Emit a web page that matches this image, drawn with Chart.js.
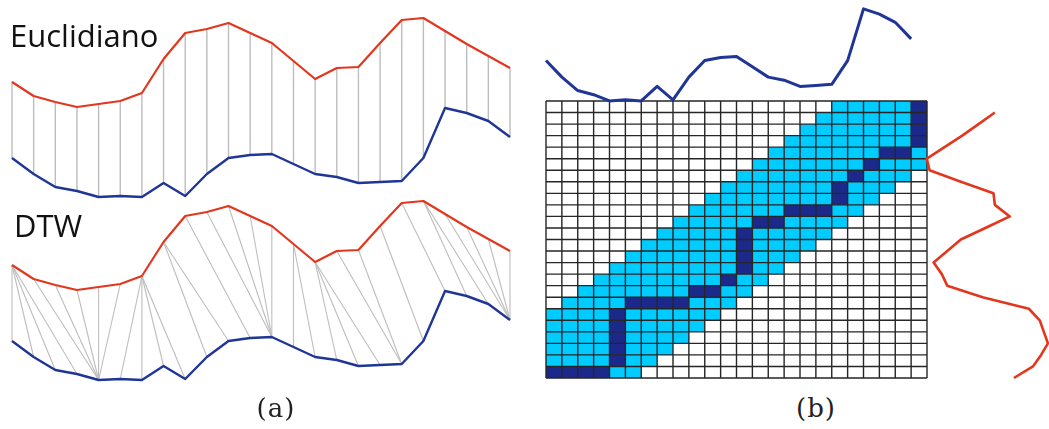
<!DOCTYPE html>
<html>
<head>
<meta charset="utf-8">
<script src="https://cdn.jsdelivr.net/npm/chart.js@4.4.1/dist/chart.umd.min.js"></script>
<style>
  body { margin: 0; background: #fff; }
  #page { position: relative; width: 1049px; height: 429px; overflow: hidden; }
  canvas { position: absolute; }
  .name { position: absolute; font-family: "Open Sans", sans-serif; font-size: 31px; line-height: 1; color: #111; }
  .cap { position: absolute; width: 80px; text-align: center; font-family: "DejaVu Serif", serif; font-size: 26px; letter-spacing: 1px; color: #222; }
</style>
</head>
<body>
<div id="page">
  <canvas id="euclid" width="530" height="215" style="left:0px;top:0px"></canvas>
  <canvas id="dtw" width="530" height="215" style="left:0px;top:183px"></canvas>
  <canvas id="grid" width="395" height="290" style="left:540px;top:95px"></canvas>
  <canvas id="topSeries" width="395" height="110" style="left:540px;top:0px"></canvas>
  <canvas id="sideSeries" width="134" height="290" style="left:915px;top:95px"></canvas>
  <div class="name" style="left:10px;top:20px">Euclidiano</div>
  <div class="name" style="left:14px;top:210px">DTW</div>
  <div class="cap" style="left:236px;top:393px">(a)</div>
  <div class="cap" style="left:776px;top:393px">(b)</div>
</div>
<script>
// two series being aligned (same length)
const red = [12.8, 11.4, 10.8, 10.3, 10.6, 10.9, 11.7, 15.1, 17.7, 18.1, 18.7, 17.7,
             16.7, 14.9, 13.1, 14.2, 14.3, 16.7, 19.0, 19.2, 17.9, 16.6, 15.4, 14.2];
const blue = [5.2, 3.6, 2.3, 1.9, 1.3, 1.4, 1.3, 2.7, 1.4, 3.6, 5.2, 5.5,
              5.6, 4.6, 3.6, 3.3, 2.7, 2.8, 2.9, 5.2, 10.2, 9.7, 8.9, 7.3];

// warping path as [blue index, red index]
const warpPath = [
  [0, 0], [1, 0], [2, 0], [3, 0],
  [4, 1], [4, 2], [4, 3], [4, 4], [4, 5],
  [5, 6], [6, 6], [7, 6], [8, 6],
  [9, 7], [10, 7],
  [11, 8],
  [12, 9], [12, 10], [12, 11], [12, 12],
  [13, 13], [14, 13],
  [15, 14], [16, 14], [17, 14],
  [18, 15], [18, 16],
  [19, 17],
  [20, 18],
  [21, 19], [22, 19],
  [23, 20], [23, 21], [23, 22], [23, 23]
];
// Sakoe-Chiba window half width (cells)
const bandWidth = 5;

const RED = '#e2371d';
const BLUE = '#1f3696';
const LINK = '#bdbdbd';
const BAND = '#00ccff';
const PATH = '#1b2a8a';

function options(xr, yr, padding, reverseX) {
  return {
    responsive: false,
    animation: false,
    events: [],
    layout: { padding },
    plugins: { legend: { display: false }, tooltip: { enabled: false } },
    scales: {
      x: { type: 'linear', display: false, min: xr[0], max: xr[1], reverse: !!reverseX },
      y: { type: 'linear', display: false, min: yr[0], max: yr[1] }
    }
  };
}

function seriesLine(points, color, width) {
  return {
    data: points, showLine: true, borderColor: color, borderWidth: width,
    pointRadius: 0, tension: 0, clip: false, borderJoinStyle: 'round'
  };
}

const redPts = red.map((v, i) => ({ x: i, y: v }));
const bluePts = blue.map((v, i) => ({ x: i, y: v }));

// (a) top: point-to-point links
const euclidLinks = red.map((v, i) => seriesLine([{ x: i, y: v }, { x: i, y: blue[i] }], LINK, 1.4));
new Chart(document.getElementById('euclid'), {
  type: 'scatter',
  data: { datasets: [seriesLine(redPts, RED, 2.2), seriesLine(bluePts, BLUE, 2.4), ...euclidLinks] },
  options: options([0, 23], [0, 21], { left: 12, right: 20, top: 0, bottom: 5 })
});

// (a) bottom: links along the warping path
const dtwLinks = warpPath.map(([c, r]) => seriesLine([{ x: r, y: red[r] }, { x: c, y: blue[c] }], LINK, 1.1));
new Chart(document.getElementById('dtw'), {
  type: 'scatter',
  data: { datasets: [seriesLine(redPts, RED, 2.2), seriesLine(bluePts, BLUE, 2.4), ...dtwLinks] },
  options: options([0, 23], [0, 21], { left: 12, right: 20, top: 0, bottom: 5 })
});

// (b) cost matrix cells: window band + path
const cellPlugin = {
  id: 'costCells',
  beforeDatasetsDraw(chart) {
    const { ctx, scales: { x, y } } = chart;
    const n = blue.length, m = red.length;
    const onPath = new Set(warpPath.map(([c, r]) => c + ',' + r));
    ctx.save();
    for (let r = 0; r < m; r++) {
      for (let c = 0; c < n; c++) {
        let fill = '#ffffff';
        if (onPath.has(c + ',' + r)) fill = PATH;
        else if (Math.abs(c - r) <= bandWidth) fill = BAND;
        const x0 = x.getPixelForValue(c), x1 = x.getPixelForValue(c + 1);
        const y0 = y.getPixelForValue(r + 1), y1 = y.getPixelForValue(r);
        ctx.fillStyle = fill;
        ctx.fillRect(x0, y0, x1 - x0, y1 - y0);
      }
    }
    ctx.strokeStyle = '#262626';
    ctx.lineWidth = 1.4;
    ctx.beginPath();
    for (let c = 0; c <= n; c++) {
      const px = x.getPixelForValue(c);
      ctx.moveTo(px, y.getPixelForValue(0));
      ctx.lineTo(px, y.getPixelForValue(m));
    }
    for (let r = 0; r <= m; r++) {
      const py = y.getPixelForValue(r);
      ctx.moveTo(x.getPixelForValue(0), py);
      ctx.lineTo(x.getPixelForValue(n), py);
    }
    ctx.stroke();
    ctx.restore();
  }
};
new Chart(document.getElementById('grid'), {
  type: 'scatter',
  data: { datasets: [] },
  options: options([0, 24], [0, 24], { left: 6, right: 8, top: 6, bottom: 7 }),
  plugins: [cellPlugin]
});

// blue series along the columns
new Chart(document.getElementById('topSeries'), {
  type: 'scatter',
  data: { datasets: [seriesLine(bluePts, BLUE, 3)] },
  options: options([0, 24], [0.42, 11.06], { left: 6, right: 8, top: 0, bottom: 0 })
});

// red series along the rows, value axis horizontal
new Chart(document.getElementById('sideSeries'), {
  type: 'scatter',
  data: { datasets: [seriesLine(red.map((v, i) => ({ x: v, y: i })), RED, 2.6)] },
  options: options([10.22, 20.07], [0, 24], { left: 0, right: 0, top: 6, bottom: 7 }, true)
});
</script>
</body>
</html>
